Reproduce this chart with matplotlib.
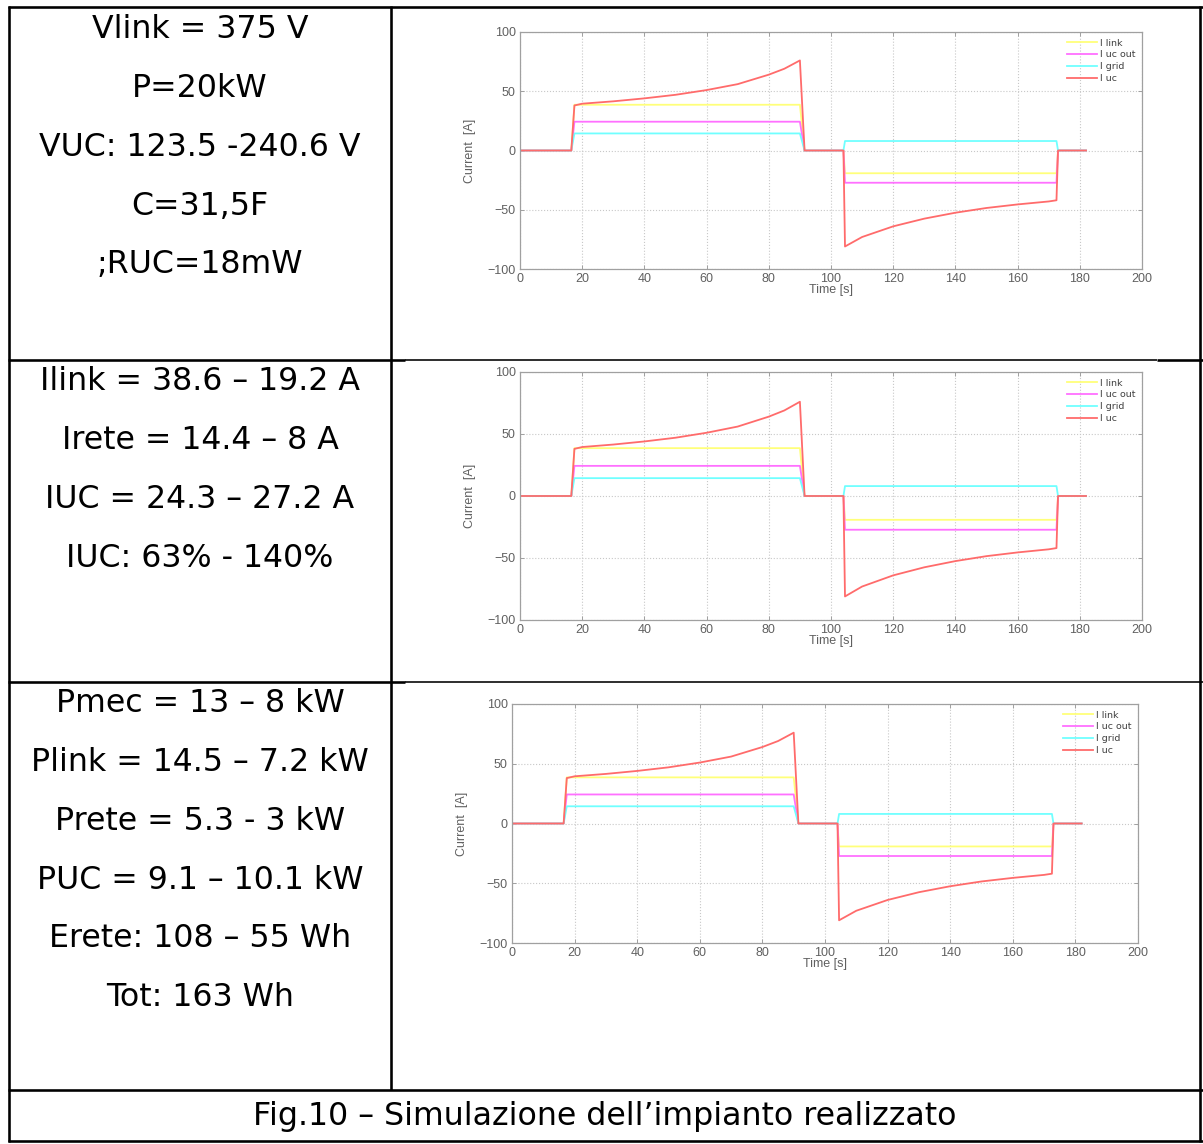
import matplotlib
matplotlib.use('Agg')
import matplotlib.pyplot as plt
from matplotlib.lines import Line2D

W, H = 1203, 1144
DPI = 100

# ---------------- data ----------------
row1_lines = ["Vlink = 375 V", "P=20kW", "VUC: 123.5 -240.6 V", "C=31,5F", ";RUC=18mW"]
row2_lines = ["Ilink = 38.6 \u2013 19.2 A", "Irete = 14.4 \u2013 8 A", "IUC = 24.3 \u2013 27.2 A", "IUC: 63% - 140%"]
row3_lines = ["Pmec = 13 \u2013 8 kW", "Plink = 14.5 \u2013 7.2 kW", "Prete = 5.3 - 3 kW",
              "PUC = 9.1 \u2013 10.1 kW", "Erete: 108 \u2013 55 Wh", "Tot: 163 Wh"]
caption = "Fig.10 \u2013 Simulazione dell\u2019impianto realizzato"

series_labels = ["I link", "I uc out", "I grid", "I uc"]

t_step = [0, 16.5, 17.5, 90, 91.5, 104, 104.5, 172.5, 173, 182]
i_link = [0, 0, 38.6, 38.6, 0, 0, -19.2, -19.2, 0, 0]
i_uc_out = [0, 0, 24.3, 24.3, 0, 0, -27.2, -27.2, 0, 0]
i_grid = [0, 0, 14.4, 14.4, 0, 0, 8, 8, 0, 0]

t_uc = [0, 16.5, 17.5, 20, 30, 40, 50, 60, 70, 80, 85, 90, 91.5, 104, 104.5,
        110, 120, 130, 140, 150, 160, 170, 172.5, 173, 182]
i_uc = [0, 0, 38, 39.5, 41.5, 44, 47, 51, 56, 64, 69, 76, 0, 0, -81,
        -73, -64, -57.5, -52.5, -48.5, -45.5, -43, -42, 0, 0]

x_ticks = [0, 20, 40, 60, 80, 100, 120, 140, 160, 180, 200]
y_ticks = [-100, -50, 0, 50, 100]

colors = ["#ffff7a", "#ff70ff", "#70ffff", "#ff6b6b"]

fig = plt.figure(figsize=(W / DPI, H / DPI), dpi=DPI)
fig.patch.set_facecolor("white")

# background axes in pixel coords
bg = fig.add_axes([0, 0, 1, 1])
bg.set_xlim(0, W)
bg.set_ylim(H, 0)
bg.axis("off")

lw_thick = 2.6 * 72 / DPI
lw_thin = 1.6 * 72 / DPI

def hline(y, x0, x1, lw):
    bg.add_line(Line2D([x0, x1], [y, y], color="black", lw=lw, solid_capstyle="butt"))

def vline(x, y0, y1, lw):
    bg.add_line(Line2D([x, x], [y0, y1], color="black", lw=lw, solid_capstyle="butt"))

# table borders
hline(7, 8, W, lw_thick)
vline(9, 6, 1142, lw_thick)
vline(391, 6, 1090, lw_thick)
hline(359.5, 8, 405, lw_thick)
hline(359.5, 405, 1157, lw_thin)
hline(359.5, 1157, W, lw_thick)
hline(682, 8, 405, lw_thick)
hline(682, 405, W, lw_thin)
hline(1090, 8, W, lw_thick)
hline(1141, 8, W, lw_thick)
vline(1200, 6, 1142, lw_thick)

fs_text = 22.8
cx = 200
def put_lines(lines, y0, dy=58.7):
    for k, s in enumerate(lines):
        bg.text(cx, y0 + k * dy, s, ha="center", va="center",
                fontsize=fs_text, family="DejaVu Sans", color="black")

put_lines(row1_lines, 30)
put_lines(row2_lines, 382)
put_lines(row3_lines, 704)
bg.text(605, 1117, caption, ha="center", va="center", fontsize=fs_text,
        family="DejaVu Sans", color="black")

def px_axes(l, r, t, b):
    return fig.add_axes([l / W, 1 - b / H, (r - l) / W, (b - t) / H])

def chart(l, r, t, b):
    ax = px_axes(l, r, t, b)
    ax.plot(t_step, i_link, color=colors[0], lw=1.3, label=series_labels[0])
    ax.plot(t_step, i_uc_out, color=colors[1], lw=1.3, label=series_labels[1])
    ax.plot(t_step, i_grid, color=colors[2], lw=1.3, label=series_labels[2])
    ax.plot(t_uc, i_uc, color=colors[3], lw=1.3, label=series_labels[3])
    ax.set_xlim(0, 200)
    ax.set_ylim(-100, 100)
    ax.set_xticks(x_ticks)
    ax.set_yticks(y_ticks)
    ax.grid(True, color="#c8c8c8", ls=":", lw=0.8)
    for sp in ax.spines.values():
        sp.set_color("#a0a0a0")
        sp.set_linewidth(0.9)
    ax.tick_params(direction="in", length=3, width=0.7, colors="#a0a0a0",
                   labelcolor="#606060", labelsize=9, top=True, right=True, pad=3)
    for lab in ax.get_xticklabels() + ax.get_yticklabels():
        lab.set_family("Liberation Sans")
    ax.set_xlabel("Time [s]", fontsize=9, color="#606060", family="Liberation Sans", labelpad=-1)
    ax.set_ylabel("Current  [A]", fontsize=9, color="#606060", family="Liberation Sans", labelpad=8)
    leg = ax.legend(loc="upper right", frameon=False, fontsize=6.8, handlelength=3.2,
                    labelspacing=0.3, handletextpad=0.3, borderaxespad=0.3)
    for txt in leg.get_texts():
        txt.set_color("#404040")
    return ax

chart(520, 1142, 32, 269)
chart(520, 1142, 372, 620)
chart(512, 1138, 704, 943)

fig.savefig("out.png", dpi=DPI)
